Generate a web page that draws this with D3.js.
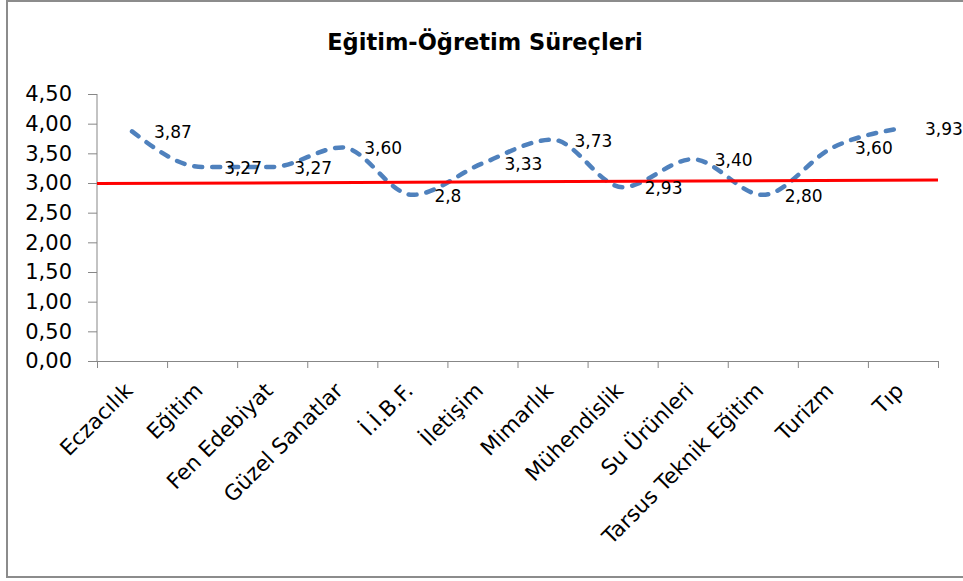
<!DOCTYPE html>
<html>
<head>
<meta charset="utf-8">
<script src="https://cdn.jsdelivr.net/npm/d3@7"></script>
<style>
    body { margin: 0; background: #fff; }
    svg { display: block; }
    text { font-family: "DejaVu Sans", sans-serif; fill: #000; }
</style>
</head>
<body>
<div id="chart"></div>
<script>
// data
var categories = ["Eczacılık", "Eğitim", "Fen Edebiyat", "Güzel Sanatlar", "İ.İ.B.F.", "İletişim",
                  "Mimarlık", "Mühendislik", "Su Ürünleri", "Tarsus Teknik Eğitim", "Turizm", "Tıp"];
var values = [3.87, 3.27, 3.27, 3.60, 2.80, 3.33, 3.73, 2.93, 3.40, 2.80, 3.60, 3.93];
var valueLabels = ["3,87", "3,27", "3,27", "3,60", "2,8", "3,33", "3,73", "2,93", "3,40", "2,80", "3,60", "3,93"];
var refLine = [2.99, 3.05];   // red line, left end / right end
var yTicks = [0, 0.5, 1, 1.5, 2, 2.5, 3, 3.5, 4, 4.5];
var title = "Eğitim-Öğretim Süreçleri";

var W = 963, H = 581;
var margin = {top: 94, right: 25, bottom: 220, left: 97},
    width = 938 - margin.left,
    height = 361 - margin.top;

var svg = d3.select("#chart").append("svg")
    .attr("width", W)
    .attr("height", H);

// chart frame
svg.append("rect")
    .attr("x", 7).attr("y", 1)
    .attr("width", W + 10).attr("height", 576)
    .attr("fill", "#fff")
    .attr("stroke", "#8c8c8c")
    .attr("stroke-width", 2);

svg.append("text")
    .attr("x", 485).attr("y", 50)
    .attr("text-anchor", "middle")
    .attr("font-size", 22.5)
    .attr("font-weight", "bold")
    .text(title);

var g = svg.append("g")
    .attr("transform", `translate(${margin.left},${margin.top})`);

var xBand = d3.scaleBand()
    .domain(categories)
    .range([0, width]);

var xEdge = d3.scaleLinear()
    .domain([0, categories.length])
    .range([0, width]);

var yScale = d3.scaleLinear()
    .domain([0, 4.5])
    .range([height, 0]);

var fmt = d => d.toFixed(2).replace(".", ",");

var yAxis = d3.axisLeft(yScale)
    .tickValues(yTicks)
    .tickFormat(fmt)
    .tickSize(9)
    .tickPadding(16);

var xAxis = d3.axisBottom(xEdge)
    .tickValues(d3.range(categories.length + 1))
    .tickFormat("")
    .tickSize(7)
    .tickSizeOuter(0);

var gy = g.append("g").attr("class", "axis y-axis").call(yAxis);
gy.select(".domain").attr("d", `M0,0V${height}`);
gy.selectAll("path,line").attr("stroke", "#878787");
gy.selectAll("text")
    .attr("font-size", 21)
    .attr("font-family", "DejaVu Sans, sans-serif")
    .attr("fill", "#000");

var gx = g.append("g").attr("class", "axis x-axis")
    .attr("transform", `translate(0,${height})`)
    .call(xAxis);
gx.selectAll("path,line").attr("stroke", "#878787");

// category labels
g.append("g").selectAll("text.cat").data(categories)
    .enter().append("text")
    .attr("class", "cat")
    .attr("transform", d => `translate(${xBand(d) + xBand.bandwidth() / 2 + 2},${height + 31}) rotate(-45)`)
    .attr("text-anchor", "end")
    .attr("font-size", 21.5)
    .text(d => d);

var cx = (d, i) => xBand(categories[i]) + xBand.bandwidth() / 2;

// dashed smoothed series
var line = d3.line()
    .x((d, i) => cx(d, i))
    .y(d => yScale(d))
    .curve(d3.curveMonotoneX);

g.append("path")
    .datum(values)
    .attr("d", line)
    .attr("fill", "none")
    .attr("stroke", "#4f81bd")
    .attr("stroke-width", 4.5)
    .attr("stroke-linecap", "round")
    .attr("stroke-dasharray", "8,10");

// red reference line
g.append("line")
    .attr("x1", xEdge(0)).attr("x2", xEdge(categories.length))
    .attr("y1", yScale(refLine[0])).attr("y2", yScale(refLine[1]))
    .attr("stroke", "#ff0000")
    .attr("stroke-width", 3);

// data labels
g.append("g").selectAll("text.lbl").data(values)
    .enter().append("text")
    .attr("class", "lbl")
    .attr("x", (d, i) => cx(d, i) + 22)
    .attr("y", d => yScale(d) + 7)
    .attr("font-size", 17)
    .text((d, i) => valueLabels[i]);
</script>
</body>
</html>
